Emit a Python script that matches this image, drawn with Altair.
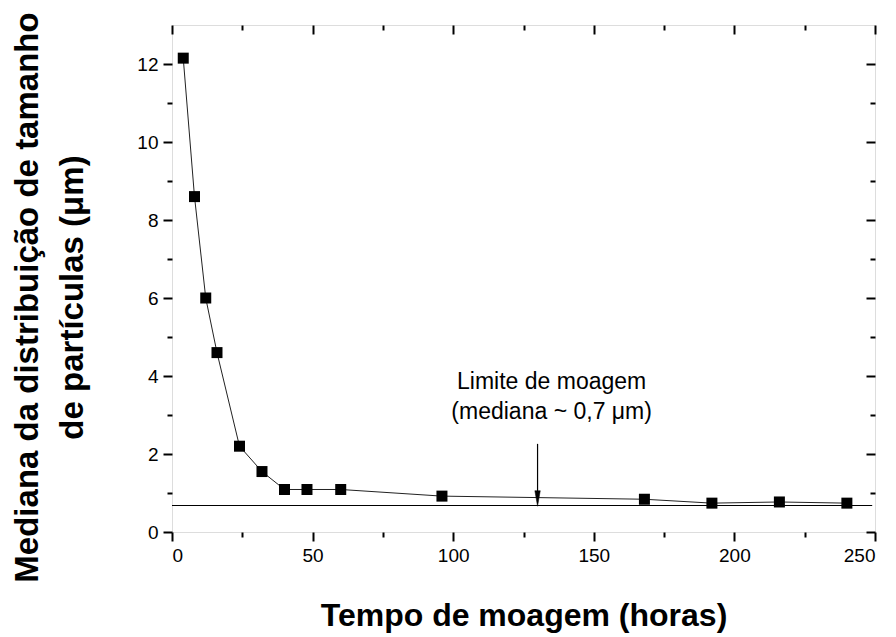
import altair as alt
import pandas as pd

# ---- data ----
hours = [4, 8, 12, 16, 24, 32, 40, 48, 60, 96, 168, 192, 216, 240]
median_um = [12.15, 8.6, 6.0, 4.6, 2.2, 1.55, 1.09, 1.09, 1.09, 0.92, 0.84, 0.74, 0.77, 0.74]

limit_value = 0.68
limit_x_start = 0
limit_x_end = 249

arrow_x = 130
arrow_y_top = 2.26
arrow_y_end = 0.95
arrow_head_y = 0.86

annotation_x = 135
annotation_y = [3.85, 3.08]
annotation_lines = ["Limite de moagem", "(mediana ~ 0,7 μm)"]

x_major = [0, 50, 100, 150, 200, 250]
x_minor = [25, 75, 125, 175, 225]
y_major = [0, 2, 4, 6, 8, 10, 12]
y_minor = [1, 3, 5, 7, 9, 11]

x_title = "Tempo de moagem (horas)"
y_title = ["Mediana da distribuição de tamanho", "de partículas (μm)"]

W, H = 703, 507
FONT = "Liberation Sans"

df = pd.DataFrame({"t": hours, "m": median_um})
df_limit = pd.DataFrame({"t": [limit_x_start], "t2": [limit_x_end], "m": [limit_value]})
df_arrow = pd.DataFrame({"t": [arrow_x], "m": [arrow_y_top], "m2": [arrow_y_end]})
df_head = pd.DataFrame({"t": [arrow_x], "m": [arrow_head_y]})
df_text = pd.DataFrame({"t": [annotation_x] * 2, "m": annotation_y, "label": annotation_lines})

xs = alt.Scale(domain=[0, 250], nice=False, zero=False)
ys = alt.Scale(domain=[0, 13], nice=False, zero=False)

MAJ, MIN = 9, 5


def axis(values, orient, size, labels=False, offset=None, **kw):
    args = dict(
        values=values, orient=orient, tickSize=size, tickWidth=2, tickColor="black",
        domain=False, grid=False, labels=labels, ticks=True,
    )
    if offset is not None:
        args["offset"] = offset
    if labels:
        args.update(labelFont=FONT, labelFontSize=19, labelColor="black", labelPadding=5)
    args.update(kw)
    if "title" not in args:
        args["title"] = None
    return alt.Axis(**args)


x_main = axis(
    x_major, "bottom", MAJ, labels=True, title=x_title, titleFont=FONT, titleFontSize=32,
    titleFontWeight="bold", titleColor="black", titleX=W / 2, titleY=93,
    titleBaseline="alphabetic", titleAlign="center", titleAngle=0,
)
y_main = axis(
    y_major, "left", MAJ, labels=True, title=y_title, titleFont=FONT, titleFontSize=33,
    titleFontWeight="bold", titleColor="black", titleX=-135, titleY=272,
    titleBaseline="alphabetic", titleAlign="center", titleAngle=270, titleLineHeight=45,
)

line = alt.Chart(df).mark_line(color="#222222", strokeWidth=1).encode(
    x=alt.X("t:Q", scale=xs, axis=x_main),
    y=alt.Y("m:Q", scale=ys, axis=y_main),
)

points = alt.Chart(df).mark_square(size=121, color="black", opacity=1).encode(
    x=alt.X("t:Q", scale=xs, axis=axis(x_minor, "bottom", MIN)),
    y=alt.Y("m:Q", scale=ys, axis=axis(y_minor, "left", MIN)),
)

limit = alt.Chart(df_limit).mark_rule(color="black", strokeWidth=1.2).encode(
    x=alt.X("t:Q", scale=xs, axis=axis(x_major, "bottom", MAJ, offset=-H)),
    x2="t2:Q",
    y=alt.Y("m:Q", scale=ys, axis=axis(y_major, "left", MAJ, offset=-W)),
)

arrow = alt.Chart(df_arrow).mark_rule(color="black", strokeWidth=1.2).encode(
    x=alt.X("t:Q", scale=xs, axis=axis(x_minor, "bottom", MIN, offset=-H)),
    y=alt.Y("m:Q", scale=ys, axis=axis(y_minor, "left", MIN, offset=-W)),
    y2="m2:Q",
)

head = alt.Chart(df_head).mark_point(
    shape="M-0.35,-1L0.35,-1L0,1Z", filled=True, fill="black", stroke="black",
    strokeWidth=0.5, opacity=1, fillOpacity=1,
).encode(
    x=alt.X("t:Q", scale=xs, axis=None),
    y=alt.Y("m:Q", scale=ys, axis=None),
    size=alt.value(240),
)

text = alt.Chart(df_text).mark_text(
    font=FONT, fontSize=23, color="black", align="center", baseline="middle"
).encode(
    x=alt.X("t:Q", scale=xs, axis=None),
    y=alt.Y("m:Q", scale=ys, axis=None),
    text="label:N",
)

chart = (
    alt.layer(line, points, limit, arrow, head, text)
    .resolve_axis(x="independent", y="independent")
    .properties(
        width=W, height=H,
        autosize=alt.AutoSizeParams(type="none"),
        padding={"left": 164, "top": 17, "right": 12, "bottom": 105},
    )
    .configure_view(stroke="black", strokeWidth=2)
    .configure(background="white")
)

chart.save("out.html", embed_options={"renderer": "svg", "actions": False})
